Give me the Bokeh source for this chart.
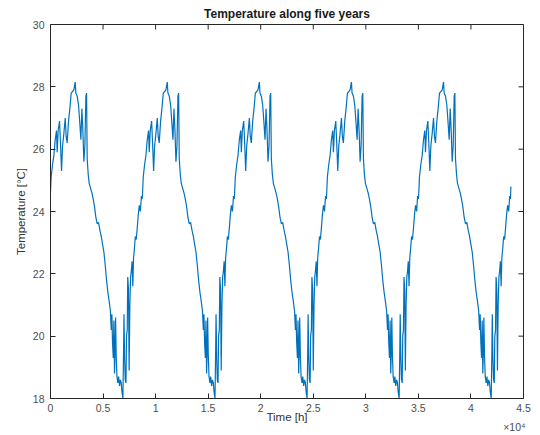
from bokeh.plotting import figure
from bokeh.models import FixedTicker, Title, Range1d
from bokeh.embed import file_html
from bokeh.resources import INLINE

# One year of temperature (hours, degC); the series repeats each year
year_hours = [0, 60, 190, 320, 445, 570, 635, 730, 860, 950, 1050, 1145, 1270, 1400, 1490,
              1585, 1715, 1840, 1970, 2100, 2220, 2350, 2410, 2540, 2670, 2795, 2890, 2985,
              3080, 3175, 3270, 3365, 3430, 3490, 3585, 3680, 3810, 3940, 4065, 4190, 4320,
              4445, 4570, 4700, 4830, 4950, 5080, 5200, 5330, 5460, 5590, 5700, 5780, 5840,
              5900, 5970, 6030, 6090, 6150, 6190, 6250, 6320, 6410, 6480, 6570, 6650, 6730,
              6800, 6890, 6950, 6990, 7050, 7110, 7180, 7230, 7300, 7350, 7420, 7480, 7550,
              7620, 7690, 7760, 7830, 7900, 7980, 8070, 8160, 8260, 8350, 8450, 8550, 8650, 8720]
year_temp = [24.6, 25.1, 25.5, 25.8, 26.3, 26.6, 25.9, 26.6, 26.9, 26.2, 25.3, 26.1, 26.5, 27.0, 26.4,
             26.2, 26.9, 27.3, 27.8, 27.85, 27.9, 28.15, 27.8, 27.7, 27.4, 26.8, 26.3, 27.3,
             26.6, 25.6, 26.1, 27.7, 27.8, 25.7, 25.2, 24.9, 24.75, 24.6, 24.4, 24.15, 23.8,
             23.6, 23.65, 23.4, 23.2, 22.95, 22.7, 22.3, 21.8, 21.4, 21.1, 20.8, 20.2, 20.7,
             19.8, 19.3, 20.5, 18.8, 19.6, 20.6, 19.4, 18.7, 18.5, 18.7, 18.4, 18.6, 18.5,
             18.2, 18.0, 19.5, 20.7, 19.3, 18.6, 18.5, 20.0, 20.2, 21.9, 21.5, 18.9, 21.0,
             21.9, 22.1, 22.4, 21.6, 22.5, 22.8, 23.2, 23.1, 23.5, 23.9, 24.2, 24.0, 24.5, 24.4]
n_years = 5
hours_per_year = 8760
end_temp = 24.8

x_ticks = [0, 5000, 10000, 15000, 20000, 25000, 30000, 35000, 40000, 45000]
x_tick_labels = ["0", "0.5", "1", "1.5", "2", "2.5", "3", "3.5", "4", "4.5"]
y_ticks = [18, 20, 22, 24, 26, 28, 30]

hours = []
temps = []
for k in range(n_years):
    hours += [h + k * hours_per_year for h in year_hours]
    temps += year_temp
hours.append(n_years * hours_per_year)
temps.append(end_temp)

FONT = "Liberation Sans"
AX = "#262626"
LBL = "#4d4d4d"

X0, X1, Y0, Y1 = 0, 45000, 18, 30
W, H = 540, 435
BL, BR, BT, BB = 50, 17, 24, 37
TICK_PX = 5

p = figure(width=W, height=H, output_backend="svg", toolbar_location=None,
           x_range=Range1d(X0, X1), y_range=Range1d(Y0, Y1),
           min_border_left=BL, min_border_right=BR, min_border_top=BT, min_border_bottom=BB)
p.background_fill_color = "white"
p.border_fill_color = "white"
p.outline_line_color = AX
p.outline_line_width = 1
p.xgrid.visible = False
p.ygrid.visible = False

p.title.text = "Temperature along five years"
p.title.align = "center"
p.title.text_font = FONT
p.title.text_font_size = "12px"
p.title.text_font_style = "bold"
p.title.text_color = "#1a1a1a"
p.title.standoff = 7

p.line(hours, temps, line_color="#0072BD", line_width=1.2)

xa = p.xaxis[0]
xa.ticker = FixedTicker(ticks=x_ticks)
xa.major_label_overrides = {t: l for t, l in zip(x_ticks, x_tick_labels)}
ya = p.yaxis[0]
ya.ticker = FixedTicker(ticks=y_ticks)

for ax in (xa, ya):
    ax.major_tick_in = TICK_PX
    ax.major_tick_out = 0
    ax.minor_tick_in = 0
    ax.minor_tick_out = 0
    ax.axis_line_color = AX
    ax.major_tick_line_color = AX
    ax.major_label_text_font = FONT
    ax.major_label_text_font_size = "10.5px"
    ax.major_label_text_color = LBL
    ax.axis_label_text_font = FONT
    ax.axis_label_text_font_size = "11.5px"
    ax.axis_label_text_font_style = "normal"
    ax.axis_label_text_color = "#333333"

xa.axis_label = "Time [h]"
xa.major_label_standoff = 5
xa.axis_label_standoff = -4
ya.axis_label = "Temperature [°C]"
ya.major_label_standoff = 6
ya.axis_label_standoff = 3

# inward ticks on the top and right edges of the box
fw = W - BL - BR
fh = H - BT - BB
dy = TICK_PX * (Y1 - Y0) / fh
dx = TICK_PX * (X1 - X0) / fw
p.segment(x0=x_ticks, y0=[Y1] * len(x_ticks), x1=x_ticks, y1=[Y1 - dy] * len(x_ticks),
          line_color=AX, line_width=1)
p.segment(x0=[X1] * len(y_ticks), y0=y_ticks, x1=[X1 - dx] * len(y_ticks), y1=y_ticks,
          line_color=AX, line_width=1)

exp_title = Title(text="×10⁴", align="right", text_font=FONT, text_font_size="10.5px",
                  text_font_style="normal", text_color=LBL, standoff=-15, offset=-2)
p.add_layout(exp_title, "below")

open("out.html", "w").write(file_html(p, INLINE))
